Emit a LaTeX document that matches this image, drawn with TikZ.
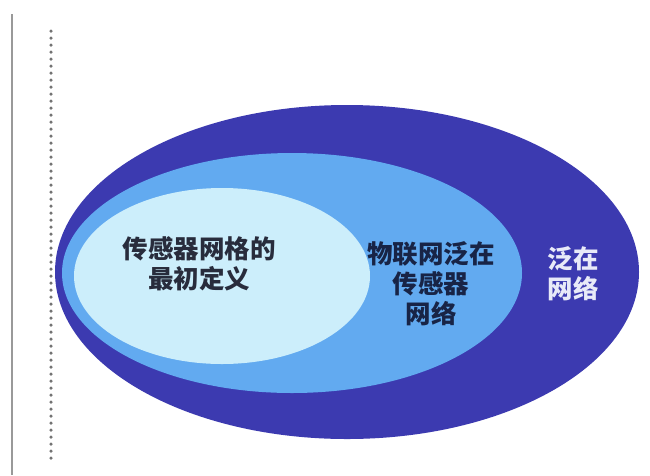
\documentclass[tikz,border=0pt]{standalone}
\usepackage{fontspec}
\newfontfamily\cjk{Noto Sans CJK SC}
\definecolor{outerblue}{RGB}{60,58,176}
\definecolor{midblue}{RGB}{98,170,240}
\definecolor{innerblue}{RGB}{204,238,251}
\definecolor{txtdark}{RGB}{40,44,60}
\definecolor{txtnavy}{RGB}{24,36,70}
\definecolor{txtlight}{RGB}{232,234,248}
\begin{document}
\begin{tikzpicture}[x=1pt,y=-1pt,
  lbl/.style={font=\cjk\bfseries\fontsize{25.5}{30}\selectfont, align=center, inner sep=0pt}]
\useasboundingbox[fill=white] (0,0) rectangle (650,475);
% left rules
\draw[line width=2pt, color=gray!80] (12,14) -- (12,475);
\draw[line width=3.5pt, color=gray!90!black, line cap=round, dash pattern=on 0pt off 7pt] (51,31) -- (51,465);
% ellipses
\fill[outerblue] (347,272) ellipse [x radius=292, y radius=167];
\fill[midblue] (292,273) ellipse [x radius=230, y radius=120];
\fill[innerblue] (222,276) ellipse [x radius=148, y radius=88];
% labels
\node[lbl, text=txtdark] (t1) at (199,264) {传感器网格的\\最初定义};
\node[lbl, text=txtnavy] (t2) at (431,284) {物联网泛在\\传感器\\网络};
\node[lbl, text=txtlight] (t3) at (573,274) {泛在\\网络};
\end{tikzpicture}
\end{document}
